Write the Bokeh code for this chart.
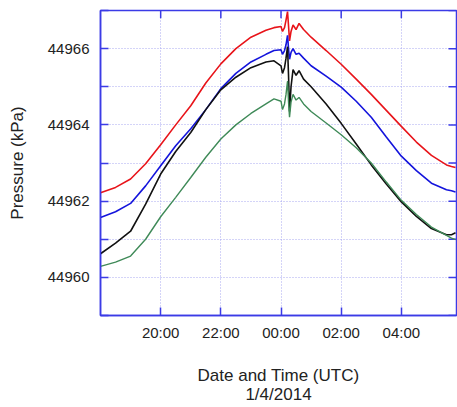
import pandas as pd
from bokeh.plotting import figure
from bokeh.models import FixedTicker, DatetimeTickFormatter, Range1d
from bokeh.embed import file_html
from bokeh.resources import INLINE

# ---- data ----
times = ["2014-01-03 18:00", "2014-01-03 18:30", "2014-01-03 19:00", "2014-01-03 19:30",
         "2014-01-03 20:00", "2014-01-03 20:30", "2014-01-03 21:00", "2014-01-03 21:30",
         "2014-01-03 22:00", "2014-01-03 22:30", "2014-01-03 23:00", "2014-01-03 23:30",
         "2014-01-03 23:46", "2014-01-04 00:00", "2014-01-04 00:03", "2014-01-04 00:07",
         "2014-01-04 00:10", "2014-01-04 00:13", "2014-01-04 00:15", "2014-01-04 00:17",
         "2014-01-04 00:20", "2014-01-04 00:24", "2014-01-04 00:30", "2014-01-04 00:36",
         "2014-01-04 00:45", "2014-01-04 01:00", "2014-01-04 01:30", "2014-01-04 02:00",
         "2014-01-04 02:30", "2014-01-04 03:00", "2014-01-04 03:30", "2014-01-04 04:00",
         "2014-01-04 04:30", "2014-01-04 05:00", "2014-01-04 05:30", "2014-01-04 05:40",
         "2014-01-04 05:48"]

red = [44962.22, 44962.36, 44962.58, 44962.98, 44963.48, 44964.00, 44964.50, 44965.10,
       44965.60, 44966.00, 44966.30, 44966.48, 44966.55, 44966.58, 44966.45, 44966.55,
       44966.75, 44966.97, 44966.60, 44966.20, 44966.45, 44966.62, 44966.50, 44966.66,
       44966.50, 44966.30, 44965.95, 44965.59, 44965.20, 44964.80, 44964.38, 44963.96,
       44963.55, 44963.20, 44962.95, 44962.91, 44962.88]

blue = [44961.57, 44961.72, 44961.94, 44962.40, 44962.93, 44963.45, 44963.90, 44964.40,
        44964.95, 44965.35, 44965.65, 44965.85, 44965.95, 44965.97, 44965.85, 44965.95,
        44966.10, 44966.35, 44966.00, 44965.72, 44965.90, 44966.00, 44965.85, 44965.88,
        44965.75, 44965.55, 44965.28, 44964.99, 44964.62, 44964.20, 44963.68, 44963.18,
        44962.80, 44962.47, 44962.30, 44962.27, 44962.24]

black = [44960.62, 44960.90, 44961.21, 44961.92, 44962.71, 44963.30, 44963.80, 44964.40,
         44964.92, 44965.25, 44965.50, 44965.65, 44965.68, 44965.55, 44965.35, 44965.50,
         44965.75, 44966.05, 44965.30, 44964.35, 44965.00, 44965.45, 44965.30, 44965.42,
         44965.20, 44965.00, 44964.55, 44964.04, 44963.50, 44962.95, 44962.45, 44961.98,
         44961.60, 44961.28, 44961.12, 44961.12, 44961.17]

green = [44960.29, 44960.40, 44960.56, 44961.00, 44961.59, 44962.10, 44962.62, 44963.15,
         44963.63, 44964.00, 44964.30, 44964.55, 44964.68, 44964.62, 44964.40, 44964.55,
         44964.80, 44965.15, 44964.60, 44964.20, 44964.60, 44964.80, 44964.65, 44964.72,
         44964.55, 44964.35, 44964.05, 44963.74, 44963.40, 44963.00, 44962.50, 44962.02,
         44961.65, 44961.32, 44961.10, 44961.03, 44960.99]

x_ticks = ["2014-01-03 20:00", "2014-01-03 22:00", "2014-01-04 00:00",
           "2014-01-04 02:00", "2014-01-04 04:00"]
y_major = [44960, 44962, 44964, 44966]
y_minor = [44959, 44961, 44963, 44965, 44967]
x_start, x_end = "2014-01-03 18:00", "2014-01-04 05:50"
y_start, y_end = 44959.0, 44967.0

t = pd.to_datetime(times)
to_ms = lambda s: pd.Timestamp(s).value / 1e6

AX = "#3b3be6"
GRID = "#a8a8f0"
TXT = "#222222"
FONT = "Liberation Sans"

W, H = 457, 407
BL, BR, BT, BB = 100, 1, 10, 86
FW, FH = W - BL - BR, H - BT - BB

p = figure(width=W, height=H, x_axis_type="datetime", output_backend="svg",
           toolbar_location=None,
           x_range=Range1d(to_ms(x_start), to_ms(x_end)),
           y_range=Range1d(y_start, y_end),
           min_border_left=BL, min_border_top=BT, min_border_right=BR, min_border_bottom=BB)

p.background_fill_color = "white"
p.border_fill_color = "white"
p.outline_line_color = AX
p.outline_line_width = 1.5

xt = FixedTicker(ticks=[to_ms(s) for s in x_ticks])
yt = FixedTicker(ticks=y_major, minor_ticks=y_minor)

p.xaxis.ticker = xt
p.xaxis.formatter = DatetimeTickFormatter(hours="%H:%M", days="%H:%M", minutes="%H:%M")
p.yaxis.ticker = yt

for ax in (p.xaxis[0], p.yaxis[0]):
    ax.axis_line_color = AX
    ax.axis_line_width = 1.5
    ax.major_tick_line_color = AX
    ax.minor_tick_line_color = AX
    ax.major_tick_line_width = 1.5
    ax.minor_tick_line_width = 1.5
    ax.major_tick_in = 8
    ax.major_tick_out = 0
    ax.minor_tick_in = 8
    ax.minor_tick_out = 0
    ax.major_label_text_font = FONT
    ax.major_label_text_font_size = "15px"
    ax.major_label_text_color = TXT
    ax.axis_label_text_font = FONT
    ax.axis_label_text_font_size = "17px"
    ax.axis_label_text_font_style = "normal"
    ax.axis_label_text_color = TXT
    ax.axis_label_text_line_height = 1.05

p.xaxis.minor_tick_line_color = None
p.yaxis.axis_label = "Pressure (kPa)"
p.yaxis.major_label_standoff = 11
p.yaxis.axis_label_standoff = 18
p.xaxis.axis_label = "Date and Time (UTC)\n1/4/2014"
p.xaxis.major_label_standoff = 8
p.xaxis.axis_label_standoff = 22

# inward ticks on top and right frame edges (from the same tick lists)
dx = 8 * (to_ms(x_end) - to_ms(x_start)) / FW
dy = 8 * (y_end - y_start) / FH
xtk = [to_ms(s) for s in x_ticks]
ytk = y_major + y_minor
p.segment(x0=xtk, y0=[y_end] * len(xtk), x1=xtk, y1=[y_end - dy] * len(xtk),
          line_color=AX, line_width=1.5)
p.segment(x0=[to_ms(x_end)] * len(ytk), y0=ytk, x1=[to_ms(x_end) - dx] * len(ytk), y1=ytk,
          line_color=AX, line_width=1.5)

p.xgrid.ticker = xt
p.xgrid.grid_line_color = GRID
p.xgrid.grid_line_dash = "1 2"
p.xgrid.grid_line_width = 1
p.ygrid.grid_line_color = GRID
p.ygrid.grid_line_dash = "1 2"
p.ygrid.minor_grid_line_color = GRID
p.ygrid.minor_grid_line_dash = "1 2"

p.line(t, red, line_color="#e8141a", line_width=1.6)
p.line(t, blue, line_color="#1414dc", line_width=1.6)
p.line(t, black, line_color="#111111", line_width=1.6)
p.line(t, green, line_color="#3f8a58", line_width=1.4)

open("out.html", "w").write(file_html(p, INLINE))
